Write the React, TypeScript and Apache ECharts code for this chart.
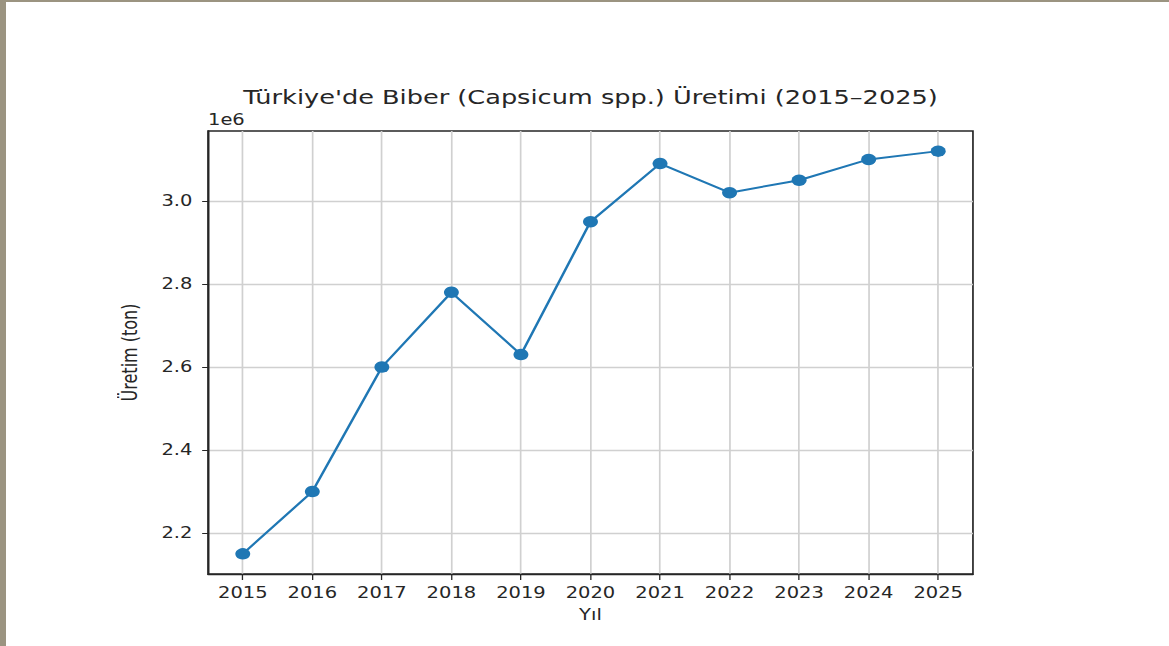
import React, { useEffect, useRef } from "react";
import * as echarts from "echarts";

const years = [2015, 2016, 2017, 2018, 2019, 2020, 2021, 2022, 2023, 2024, 2025];
const production = [2150000, 2300000, 2600000, 2780000, 2630000, 2950000, 3090000, 3020000, 3050000, 3100000, 3120000];
const yTicks = [2200000, 2400000, 2600000, 2800000, 3000000];
const titleText = "Türkiye'de Biber (Capsicum spp.) Üretimi (2015–2025)";
const xName = "Yıl";
const yName = "Üretim (ton)";
const offsetLabel = "1e6";

const SX = 1.3;
const W = 1169 / SX;
const H = 646;
const FONT = "'DejaVu Sans', sans-serif";
const INK = "#262626";

export default function App() {
  const ref = useRef<HTMLDivElement>(null);
  useEffect(() => {
    if (!ref.current) return;
    const chart = echarts.init(ref.current, undefined, { renderer: "svg", width: W, height: H });
    const gridLeft = 160;
    const gridRight = 150.8;
    const plotCenter = (gridLeft + (W - gridRight)) / 2;
    chart.setOption({
      animation: false,
      title: {
        text: titleText,
        left: plotCenter - 5,
        textAlign: "center",
        top: 82,
        textStyle: { fontFamily: FONT, fontSize: 19.7, fontWeight: "normal", color: INK },
      },
      grid: {
        left: gridLeft,
        right: gridRight,
        top: 131,
        bottom: 72,
        show: true,
        borderColor: INK,
        borderWidth: 1.3,
        backgroundColor: "transparent",
      },
      xAxis: {
        type: "value",
        min: 2014.5,
        max: 2025.5,
        name: xName,
        nameLocation: "middle",
        nameGap: 33,
        nameTextStyle: { fontFamily: FONT, fontSize: 15, color: INK },
        axisLine: { show: true, onZero: false, lineStyle: { color: INK, width: 1.3 } },
        axisTick: { show: true, length: 6, customValues: years, lineStyle: { color: INK, width: 1 } },
        axisLabel: {
          customValues: years,
          fontFamily: FONT,
          fontSize: 15,
          color: INK,
          margin: 11,
          formatter: (v: number) => String(v),
        },
        splitLine: { show: true, lineStyle: { color: "#d0d0d0", width: 1.3 } },
      },
      yAxis: {
        type: "value",
        min: 2101500,
        max: 3168500,
        name: yName,
        nameLocation: "middle",
        nameGap: 52,
        nameRotate: 90,
        nameTextStyle: { fontFamily: FONT, fontSize: 16, color: INK },
        axisLine: { show: true, onZero: false, lineStyle: { color: INK, width: 1.3 } },
        axisTick: { show: true, length: 4.5, customValues: yTicks, lineStyle: { color: INK, width: 1 } },
        axisLabel: {
          customValues: yTicks,
          fontFamily: FONT,
          fontSize: 15,
          color: INK,
          margin: 12,
          formatter: (v: number) => (v / 1e6).toFixed(1),
        },
        splitLine: { show: true, lineStyle: { color: "#d0d0d0", width: 1.3 } },
      },
      graphic: [
        {
          type: "text",
          left: gridLeft,
          top: 112,
          style: { text: offsetLabel, fontFamily: FONT, fontSize: 15, fill: INK },
        },
      ],
      series: [
        {
          type: "line",
          data: years.map((y, i) => [y, production[i]]),
          symbol: "circle",
          symbolSize: 11.5,
          lineStyle: { color: "#1f77b4", width: 2 },
          itemStyle: { color: "#1f77b4" },
        },
      ],
    });
    return () => chart.dispose();
  }, []);

  return (
    <div style={{ position: "fixed", left: 0, top: 0, width: 1169, height: 646, background: "#9b9481", overflow: "hidden" }}>
      <div style={{ position: "absolute", left: 6, top: 2, right: 0, bottom: 0, background: "#ffffff" }} />
      <div
        ref={ref}
        style={{
          position: "absolute",
          left: 0,
          top: 0,
          width: W,
          height: H,
          transform: `scaleX(${SX})`,
          transformOrigin: "0 0",
        }}
      />
    </div>
  );
}
